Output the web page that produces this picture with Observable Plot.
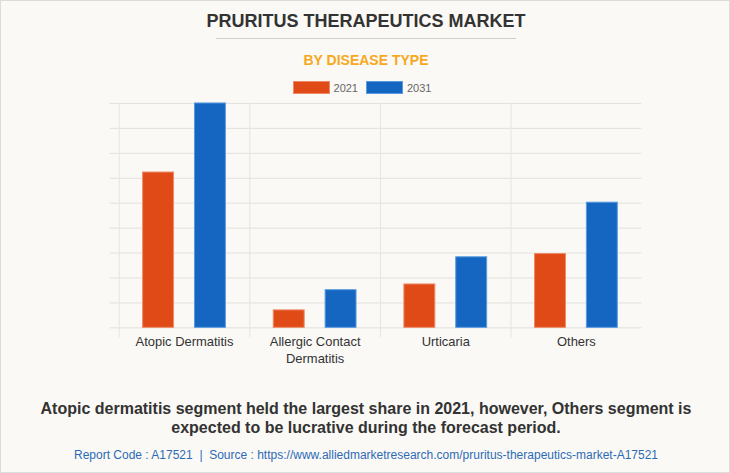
<!DOCTYPE html>
<html>
<head>
<meta charset="utf-8">
<script src="https://cdn.jsdelivr.net/npm/d3@7"></script>
<script src="https://cdn.jsdelivr.net/npm/@observablehq/plot@0.6"></script>
<style>
  html, body { margin: 0; padding: 0; }
  body { width: 730px; height: 473px; overflow: hidden; }
  #page { position: relative; width: 730px; height: 473px; background: #FAF9F5; box-sizing: border-box; border: 1px solid #dcdcdc; font-family: "Liberation Sans", Arial, sans-serif; }
  .abs { position: absolute; left: 0; width: 730px; text-align: center; white-space: nowrap; }
  #title { top: 10px; font-size: 18px; line-height: 21px; font-weight: bold; color: #333; }
  #rule { position: absolute; top: 37px; left: 215px; width: 300px; height: 1px; background: #cfcfcf; }
  #subtitle { top: 51px; font-size: 14px; line-height: 17px; font-weight: bold; color: #F7A81E; }
  #legend { top: 80px; height: 14px; font-size: 11px; line-height: 14px; color: #666; }
  .sw { display: inline-block; width: 37px; height: 13px; vertical-align: top; margin-top: 0px; box-sizing: border-box; }
  .lab { display: inline-block; vertical-align: top; margin: 0 8px 0 4px; }
  #chart { position: absolute; left: 0; top: 90px; }
  #caption { top: 398px; font-size: 16px; line-height: 19px; font-weight: bold; color: #333; }
  #source { top: 447px; font-size: 12px; line-height: 14px; color: #2D6BB6; }
</style>
</head>
<body>
<div id="page">
  <div id="title" class="abs">PRURITUS THERAPEUTICS MARKET</div>
  <div id="rule"></div>
  <div id="subtitle" class="abs">BY DISEASE TYPE</div>
  <div id="legend" class="abs"></div>
  <div id="chart"></div>
  <div id="caption" class="abs">Atopic dermatitis segment held the largest share in 2021, however, Others segment is<br>expected to be lucrative during the forecast period.</div>
  <div id="source" class="abs">Report Code : A17521&nbsp; | &nbsp;Source : https://www.alliedmarketresearch.com/pruritus-therapeutics-market-A17521</div>
</div>
<script>
// Data (arbitrary units)
const categories = ["Atopic Dermatitis", "Allergic Contact Dermatitis", "Urticaria", "Others"];
const categoryLabels = ["Atopic Dermatitis", "Allergic Contact\nDermatitis", "Urticaria", "Others"];
const years = ["2021", "2031"];
const values2021 = [6.23, 0.70, 1.74, 2.96];
const values2031 = [9.0, 1.51, 2.83, 5.02];
const yTicks = [0, 1, 2, 3, 4, 5, 6, 7, 8, 9];
const colors = ["#E04A16", "#1466C0"];
const strokeColors = ["#EE8A68", "#5A9BE0"];

const data = [];
categories.forEach((c, i) => {
  data.push({category: c, year: years[0], value: values2021[i]});
  data.push({category: c, year: years[1], value: values2031[i]});
});

// Legend
const legend = document.getElementById("legend");
years.forEach((y, i) => {
  const sw = document.createElement("span");
  sw.className = "sw";
  sw.style.background = colors[i];
  sw.style.border = "1px solid " + strokeColors[i];
  const lab = document.createElement("span");
  lab.className = "lab";
  lab.textContent = y;
  legend.appendChild(sw);
  legend.appendChild(lab);
});

const labelMap = new Map(categories.map((c, i) => [c, categoryLabels[i]]));

const chart = Plot.plot({
  width: 730,
  height: 280,
  marginTop: 12,
  marginBottom: 43,
  marginLeft: 116,
  marginRight: 87,
  style: {background: "transparent", fontFamily: "Liberation Sans, Arial, sans-serif", fontSize: "13px", color: "#333"},
  fx: {domain: categories, padding: 0, label: null},
  x: {domain: years, paddingInner: 0.4, paddingOuter: 0.445, axis: null},
  y: {domain: [0, 9], axis: null},
  color: {domain: years, range: colors},
  marks: [
    Plot.ruleY(yTicks, {stroke: "#e2e1dd", strokeWidth: 1}),
    Plot.axisY({ticks: yTicks, tickSize: 9, tickFormat: () => "", label: null, stroke: "#e2e1dd", anchor: "left"}),
    Plot.frame({anchor: "left", stroke: "#e6e5e1", insetBottom: -9}),
    Plot.axisFx({anchor: "bottom", tickSize: 0, tickPadding: 5, label: null, tickFormat: (d) => labelMap.get(d), lineHeight: 1.38, fontSize: 13, fill: "#333"}),
    Plot.barY(data, {fx: "category", x: "year", y: "value", fill: "year", stroke: (d) => strokeColors[years.indexOf(d.year)], strokeWidth: 1})
  ]
});
document.getElementById("chart").appendChild(chart);
</script>
</body>
</html>
